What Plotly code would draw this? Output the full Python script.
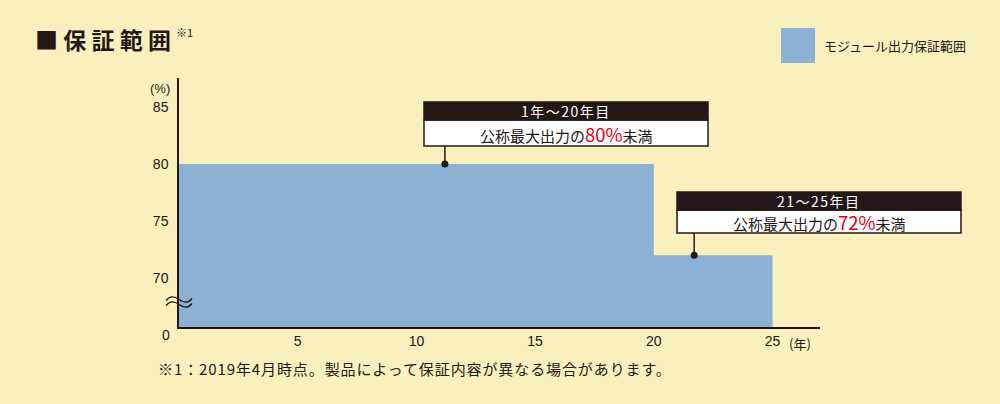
import plotly.graph_objects as go

# --- data -------------------------------------------------------------
years = [0, 20, 25]
guarantee = [80, 72, 72]

y_ticks = [70, 75, 80, 85]
x_ticks = [5, 10, 15, 20, 25]

callout_points_x = [11.2, 21.7]
callout_points_y = [80, 72]
callout_heads = ["1年～20年目", "21～25年目"]
callout_values = ["80%", "72%"]

# --- styling ----------------------------------------------------------
BG = "#f8f1bd"
AREA = "#8cb1d5"
INK = "#231815"
RED = "#e60012"
FONT = "Liberation Sans, Noto Sans CJK JP, sans-serif"
JP_FONT = "Noto Sans CJK JP, sans-serif"

# plot frame in pixels (1000 x 404 page)
PLOT_L, PLOT_R, PLOT_T, PLOT_B = 179, 820, 78, 327
PX_PER_PCT = 11.4
Y_TOP = 80 + (164 - PLOT_T) / PX_PER_PCT
Y_ZERO = 80 - (PLOT_B - 164) / PX_PER_PCT   # broken axis: 0 drawn at the bottom


def px_x(px):
    return (px - PLOT_L) / (PLOT_R - PLOT_L)


def px_y(py):
    return (PLOT_B - py) / (PLOT_B - PLOT_T)


def y_of_px(py):
    return 80 + (164 - py) / PX_PER_PCT


def spaced(text, px):
    return "<span style='letter-spacing:%spx'>%s</span>" % (px, text)


fig = go.Figure()

fig.add_trace(go.Scatter(
    x=years, y=guarantee,
    mode="lines", line=dict(shape="hv", width=0, color=AREA),
    fill="tozeroy", fillcolor=AREA,
    showlegend=False, hoverinfo="skip",
))

fig.add_trace(go.Scatter(
    x=callout_points_x, y=callout_points_y,
    mode="markers", marker=dict(size=7, color=INK),
    showlegend=False, hoverinfo="skip",
))

shapes = []
annotations = []

# callout boxes: (left px, right px, top px, header bottom px, bottom px)
boxes = [(424, 708, 102, 120, 146), (677, 961, 192, 210, 233)]
for (l, r, t, hb, b), px, py, head, val in zip(
        boxes, callout_points_x, callout_points_y, callout_heads, callout_values):
    shapes.append(dict(type="line", xref="x", yref="y", x0=px, x1=px,
                       y0=py, y1=y_of_px(b), line=dict(color=INK, width=1.5)))
    shapes.append(dict(type="rect", xref="paper", yref="paper",
                       x0=px_x(l), x1=px_x(r), y0=px_y(b), y1=px_y(hb),
                       fillcolor="white", line=dict(color=INK, width=1.5)))
    shapes.append(dict(type="rect", xref="paper", yref="paper",
                       x0=px_x(l), x1=px_x(r), y0=px_y(hb), y1=px_y(t),
                       fillcolor=INK, line=dict(color=INK, width=1.5)))
    annotations.append(dict(
        xref="paper", yref="paper", x=px_x((l + r) / 2), y=px_y((t + hb) / 2),
        text=spaced(head, 1.5), showarrow=False,
        font=dict(family=JP_FONT, size=14, color="white"),
        xanchor="center", yanchor="middle"))
    annotations.append(dict(
        xref="paper", yref="paper", x=px_x((l + r) / 2), y=px_y((hb + b) / 2 + 0.5),
        text=("公称最大出力の<span style='color:%s;font-size:18.5px'>%s</span>未満"
              % (RED, val)),
        showarrow=False, font=dict(family=JP_FONT, size=15, color=INK),
        xanchor="center", yanchor="middle"))

# axis break mark (two small waves across the y axis)
for h in (27.5, 22.5):
    shapes.append(dict(
        type="path", xref="paper", yref="paper", xsizemode="pixel", ysizemode="pixel",
        xanchor=0, yanchor=0,
        path="M -13,%s C -9,%s -4,%s 0,%s S 9,%s 13,%s"
             % (h - 1, h + 4, h + 3, h, h - 4, h + 1),
        line=dict(color=INK, width=1.3)))

# legend swatch
shapes.append(dict(type="rect", xref="paper", yref="paper",
                   x0=px_x(781), x1=px_x(815), y0=px_y(63), y1=px_y(28),
                   fillcolor=AREA, line=dict(width=0)))
annotations.append(dict(
    xref="paper", yref="paper", x=px_x(822), y=px_y(46), text="モジュール出力保証範囲",
    showarrow=False, xanchor="left", yanchor="middle",
    font=dict(family=JP_FONT, size=13, color=INK)))

# title
annotations.append(dict(
    xref="paper", yref="paper", x=px_x(33), y=px_y(39),
    text="<b>■ 保 証 範 囲</b>", showarrow=False,
    xanchor="left", yanchor="middle",
    font=dict(family=JP_FONT, size=23, color=INK)))
annotations.append(dict(
    xref="paper", yref="paper", x=px_x(174), y=px_y(32), text="※1",
    showarrow=False, xanchor="left", yanchor="middle",
    font=dict(family=JP_FONT, size=11, color=INK)))

# axis labels and footnote
annotations.append(dict(
    xref="paper", yref="paper", x=px_x(172), y=px_y(88), text="(%)",
    showarrow=False, xanchor="right", yanchor="middle",
    font=dict(family=FONT, size=13, color=INK)))
annotations.append(dict(
    xref="paper", yref="paper", x=px_x(172), y=px_y(335), text="0",
    showarrow=False, xanchor="right", yanchor="middle",
    font=dict(family=FONT, size=14, color=INK)))
annotations.append(dict(
    xref="x", yref="paper", x=x_ticks[-1], y=px_y(343), xshift=27, text="(年)",
    showarrow=False, xanchor="center", yanchor="middle",
    font=dict(family=JP_FONT, size=13, color=INK)))
annotations.append(dict(
    xref="paper", yref="paper", x=px_x(156), y=px_y(368),
    text=spaced("※1：2019年4月時点。製品によって保証内容が異なる場合があります。", 0.9),
    showarrow=False, xanchor="left", yanchor="middle",
    font=dict(family=JP_FONT, size=15, color=INK)))

fig.update_layout(
    width=1000, height=404,
    paper_bgcolor=BG, plot_bgcolor=BG,
    margin=dict(l=PLOT_L, r=1000 - PLOT_R, t=PLOT_T, b=404 - PLOT_B),
    font=dict(family=FONT, size=14, color=INK),
    shapes=shapes, annotations=annotations,
    xaxis=dict(range=[0, 27], tickvals=x_ticks, ticktext=[str(v) for v in x_ticks],
               showgrid=False, zeroline=False, showline=True, linecolor=INK,
               linewidth=1.5, ticks="", fixedrange=True),
    yaxis=dict(range=[Y_ZERO, Y_TOP], tickvals=y_ticks,
               ticktext=[str(v) for v in y_ticks],
               showgrid=False, zeroline=False, showline=True, linecolor=INK,
               linewidth=1.5, ticks="", ticklabelstandoff=6, fixedrange=True),
)

# page body has a default 8px margin; remove it so the chart fills the window
fig.write_html("out.html", config={"displayModeBar": False},
               post_script="document.body.style.margin='0';"
               "document.body.style.backgroundColor='%s';" % BG)
